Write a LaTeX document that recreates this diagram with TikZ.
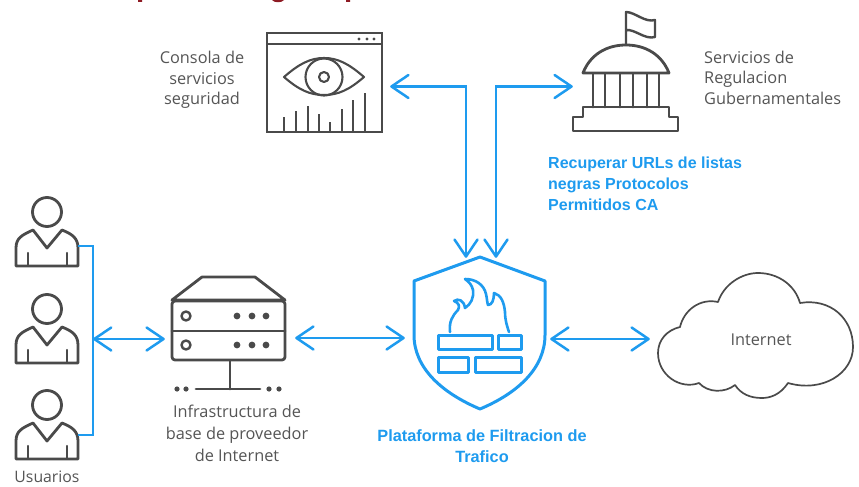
\documentclass[tikz,border=0pt]{standalone}
\usepackage{fontspec}
\setmainfont{Open Sans}
\newfontfamily\bluefont{Liberation Sans}
\usetikzlibrary{arrows.meta}
\definecolor{wire}{HTML}{1E9BEF}
\definecolor{ink}{HTML}{4A4A4A}
\definecolor{labelc}{HTML}{555555}
\definecolor{titlered}{HTML}{8E1B24}
\tikzset{
 x=1pt,y=-1pt,
 barbtip/.tip={Straight Barb[length=17pt,width=23pt,line width=2.5pt,round]},
 wirel/.style={wire,line width=2.4pt},
 biarrow/.style={wirel,barbtip-barbtip},
 icon/.style={ink,line width=2.8pt,line join=round,line cap=round},
 thinicon/.style={ink,line width=2.1pt,line join=round},
 shieldline/.style={wire,line width=3pt,line join=round},
 graylabel/.style={text=labelc,font=\fontsize{16.3}{20.5}\selectfont,align=center,inner sep=0pt},
 bluelabel/.style={text=wire,font=\bluefont\bfseries\fontsize{16}{21}\selectfont,inner sep=0pt},
 anchorpt/.style={inner sep=0pt,minimum size=0pt},
}
\newcommand{\person}[2]{%
 \begin{scope}[shift={(#1,#2)}]
  \draw[icon] (47,32) circle (14.5);
  \draw[icon] (16,86) -- (16,68) .. controls (16,58) and (22,55) .. (33,50) -- (47,68) -- (62,50)
     .. controls (72,54) and (78,58) .. (78,68) -- (78,86) -- cycle;
  \draw[icon,line width=2.2pt] (28,85) -- (28,73) (67,85) -- (67,73);
 \end{scope}}
\begin{document}
\begin{tikzpicture}
\useasboundingbox (0,0) rectangle (859,487);
\fill[white] (0,0) rectangle (859,487);
% cropped marks along the top edge
\fill[titlered] (138,0) rectangle (142,2) (346,0) rectangle (350,2);
\fill[titlered] (272,0) .. controls (274,3) and (282,3) .. (284,0) -- cycle;
% users
\person{0}{180}
\person{0}{277}
\person{0}{373}
\node[graylabel,font=\fontsize{15.8}{20}\selectfont] (usuarios) at (47,476.5) {Usuarios};
\coordinate (u1) at (78,246);
\coordinate (u2) at (78,435);
\coordinate (bus) at (93,339);
\draw[wirel] (u1) -| (bus) |- (u2);
% server
\node[anchorpt] (server) at (165,339) {};
\draw[icon] (172,300) -- (202,277) -- (255,277) -- (285,300) -- cycle;
\draw[icon,rounded corners=3pt] (172,301) rectangle (285,360);
\draw[icon] (172,331) -- (285,331);
\draw[icon,line width=2.4pt] (186,316) circle (4.5) (186,345) circle (4.5);
\foreach \y in {316,345}\foreach \x in {237,252,266}\fill[ink] (\x,\y) circle (3.4);
\draw[icon] (230,361) -- (230,389) (196,389) -- (260,389);
\foreach \x in {177,186,269,279}\fill[ink] (\x,389) circle (2.6);
\node[graylabel,font=\fontsize{16.3}{22}\selectfont,anchor=north] (infra) at (237,405) {Infrastructura de\\base de proveedor\\de Internet};
\draw[biarrow] (bus) -- (server);
% shield
\node[anchorpt] (shieldL) at (405,338) {};
\node[anchorpt] (shieldR) at (550,339) {};
\node[anchorpt] (shieldT1) at (466,258) {};
\node[anchorpt] (shieldT2) at (496,258) {};
\node[anchorpt] (serverE) at (295,338) {};
\draw[shieldline] (480,257) -- (545,281) -- (545,335) .. controls (545,368) and (518,393) .. (480,409)
   .. controls (442,393) and (414,368) .. (414,335) -- (414,281) -- cycle;
\draw[shieldline] (438,335) rectangle (492,349) (498,335) rectangle (521,349)
  (438,357) rectangle (468,372) (475,357) rectangle (521,372);
\draw[shieldline,line width=2.6pt,line cap=round] (450,332) .. controls (449,322) and (452,316) .. (458,310)
  .. controls (460,306) and (459,303) .. (454,301) .. controls (458,298) and (464,300) .. (465,308)
  .. controls (471,304) and (474,298) .. (473,290) .. controls (472,285) and (469,282) .. (465,279)
  .. controls (476,279) and (484,285) .. (486,294) .. controls (487,298) and (487,302) .. (488,305)
  .. controls (492,305) and (494,300) .. (494,293) .. controls (501,295) and (504,302) .. (505,312)
  .. controls (505,320) and (507,326) .. (509,332);
\node[bluelabel,font=\bluefont\bfseries\fontsize{16.3}{21}\selectfont,align=center,anchor=north] (plat) at (482,429) {Plataforma de Filtracion de\\Trafico};
% left/right arrows
\draw[biarrow] (serverE) -- (shieldL);
\node[anchorpt] (cloudL) at (650,339) {};
\draw[biarrow] (shieldR) -- (cloudL);
% cloud
\draw[ink,line width=1.7pt,line join=round] (680,327)
 .. controls (684,310) and (700,298) .. (718,302)
 .. controls (724,284) and (742,273) .. (758,273)
 .. controls (778,273) and (795,285) .. (800,303)
 .. controls (830,298) and (853,318) .. (853,347)
 .. controls (853,373) and (823,393) .. (788,383)
 .. controls (780,395) and (770,398) .. (762,398)
 .. controls (750,398) and (741,394) .. (735,385)
 .. controls (725,393) and (708,393) .. (699,383)
 .. controls (680,390) and (658,375) .. (658,353)
 .. controls (658,340) and (667,330) .. (680,327) -- cycle;
\node[graylabel] (inet) at (761,340) {Internet};
% console
\draw[icon,line cap=butt,line join=miter] (267,33) rectangle (382,132);
\draw[thinicon] (267,44) -- (382,44);
\foreach \x in {359,367,374}\fill[ink] (\x,39) circle (1.6);
\draw[thinicon] (284,77) .. controls (299,64) and (310,58) .. (324,58) .. controls (338,58) and (349,64) .. (364,77)
  .. controls (349,90) and (338,95) .. (324,95) .. controls (310,95) and (299,90) .. (284,77) -- cycle;
\draw[thinicon] (324,77) circle (18.5) (324,77) circle (5);
\foreach \x/\t in {284/117,296/111,308/106,319/114,330/122,342/109,353/100,365/93}
  \draw[thinicon] (\x,131) -- (\x,\t);
\node[graylabel,anchor=center] (cons) at (202,80) {Consola de\\servicios\\seguridad};
% government
\draw[icon,line width=2.4pt] (626,45) -- (626,12) .. controls (635,12) and (645,23) .. (655,20) -- (655,37) .. controls (645,40) and (635,29) .. (626,30);
\draw[icon] (583,73) .. controls (590,55) and (606,45) .. (626,45) .. controls (646,45) and (662,55) .. (669,73) -- cycle;
\foreach \x in {593,605,620,633,647,659}\draw[icon] (\x,74) -- (\x,107);
\draw[icon] (583,107) -- (669,107) -- (669,117) -- (678,117) -- (678,131) -- (573,131) -- (573,117) -- (583,117) -- cycle;
\node[graylabel,align=left,anchor=west] (gov) at (704,77.5) {Servicios de\\Regulacion\\Gubernamentales};
\node[bluelabel,align=left,anchor=west] (rec) at (548,184) {Recuperar URLs de listas\\negras Protocolos\\Permitidos CA};
% top connectors
\node[anchorpt] (consE) at (390,86.5) {};
\node[anchorpt] (govW) at (573,86.5) {};
\coordinate (elbowL) at (466,86.5);
\coordinate (elbowR) at (496,86.5);
\draw[wirel,barbtip-barbtip] (consE) -- (elbowL) -- (shieldT1);
\draw[wirel,barbtip-barbtip] (govW) -- (elbowR) -- (shieldT2);
\end{tikzpicture}
\end{document}
